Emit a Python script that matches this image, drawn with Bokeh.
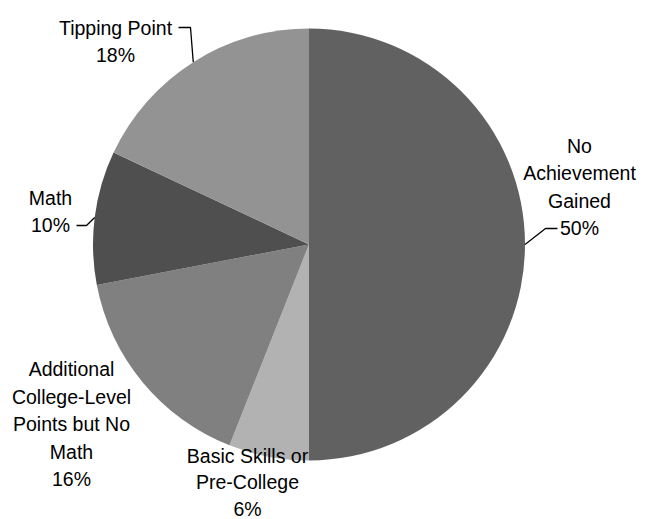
import numpy as np
from bokeh.plotting import figure
from bokeh.models import Range1d
from bokeh.core.properties import value
from bokeh.embed import file_html
from bokeh.resources import INLINE

# ---- data ----
categories = ["No Achievement Gained", "Basic Skills or Pre-College",
              "Additional College-Level Points but No Math", "Math", "Tipping Point"]
shares = [50, 6, 16, 10, 18]
label_lines = [["No", "Achievement", "Gained"],
               ["Basic Skills or", "Pre-College"],
               ["Additional", "College-Level", "Points but No", "Math"],
               ["Math"],
               ["Tipping Point"]]
colors = ["#616161", "#b2b2b2", "#808080", "#4f4f4f", "#939393"]

# ---- layout (page pixel coordinates) ----
W, H = 645, 519
MARGIN = 0
def dx(px): return px - MARGIN
def dy(py): return (H + MARGIN) - py

CX, CY, R = dx(308.5), dy(244), 216
FONT = value("Liberation Sans")
FSIZE = "19.5px"
LINE_H = 27.6
# label block anchor: center x, first baseline y (page coords)
label_anchor = [(579, 145), (247, 455), (71, 368.5), (50, 197), (115, 27)]
block_line_h = [LINE_H, 26.8, LINE_H, LINE_H, LINE_H]
# leader elbows: (elbow point, end point) or None
leaders = [((545, 228), (557, 228)), None, None,
           ((86, 225), (76, 225)), ((190, 27), (178, 27))]

p = figure(width=W, height=H, x_range=Range1d(0, W), y_range=Range1d(0, H),
           output_backend="svg", toolbar_location=None, min_border=0,
           x_axis_type=None, y_axis_type=None, outline_line_color=None)

frac = np.array(shares, dtype=float) / sum(shares)
cum = np.concatenate([[0.0], np.cumsum(frac)])
start = np.pi / 2 - 2 * np.pi * cum[:-1]
end = np.pi / 2 - 2 * np.pi * cum[1:]
p.wedge(x=CX, y=CY, radius=R, start_angle=start, end_angle=end,
        direction="clock", fill_color=colors, line_color=None)

tx, ty, tt = [], [], []
for i, (lines, v) in enumerate(zip(label_lines, shares)):
    ax, ay = label_anchor[i]
    allines = lines + [f"{v}%"]
    for j, s in enumerate(allines):
        tx.append(dx(ax))
        ty.append(dy(ay + j * block_line_h[i]))
        tt.append(s)
p.text(x=tx, y=ty, text=tt, text_font=FONT, text_font_size=FSIZE,
       text_align="center", text_baseline="alphabetic", text_color="#000000")

mid = np.pi / 2 - 2 * np.pi * (cum[:-1] + frac / 2)
for i, ld in enumerate(leaders):
    if ld is None:
        continue
    ex, ey = CX + R * np.cos(mid[i]), CY + R * np.sin(mid[i])
    (bx, by), (fx, fy) = ld
    p.line(x=[ex, dx(bx), dx(fx)], y=[ey, dy(by), dy(fy)],
           line_color="#000000", line_width=1.3)

open("out.html", "w").write(file_html(p, INLINE))
